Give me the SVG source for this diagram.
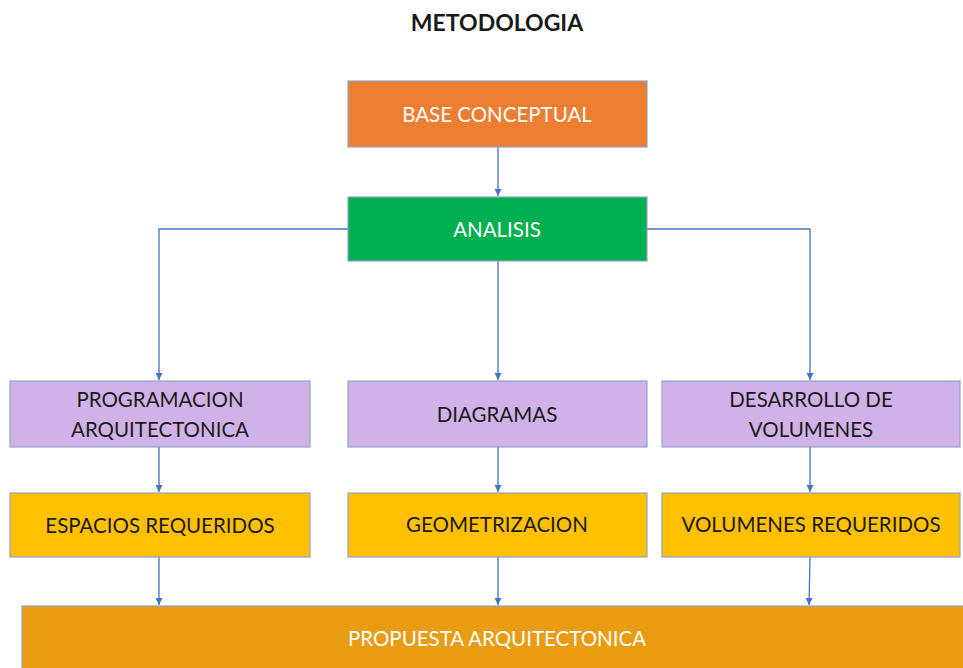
<svg xmlns="http://www.w3.org/2000/svg" width="963" height="668" viewBox="0 0 963 668">
<defs>
<marker id="arr" viewBox="0 0 10 10" refX="10" refY="5" markerWidth="7" markerHeight="7" markerUnits="userSpaceOnUse" orient="auto">
<path d="M0,0 L10,5 L0,10 z" fill="#4472C4"/>
</marker>
<style>
.box{stroke:#8FA3C8;stroke-width:1.2}
.t{font-family:Lato,"Open Sans",sans-serif;font-size:20.5px;text-anchor:middle;dominant-baseline:central}
.w{fill:#ffffff}
.d{fill:#1a1a1a}
.c{fill:none;stroke:#4472C4;stroke-width:1.3}
</style>
</defs>
<rect width="963" height="668" fill="#ffffff"/>
<text x="497" y="22" class="t d" style="font-weight:bold;font-size:23px">METODOLOGIA</text>
<g id="connectors">
<path class="c" d="M498,147 V196" marker-end="url(#arr)"/>
<path class="c" d="M348,229 H159 V380" marker-end="url(#arr)"/>
<path class="c" d="M498,261 V380" marker-end="url(#arr)"/>
<path class="c" d="M647,229 H810 V380" marker-end="url(#arr)"/>
<path class="c" d="M159,447 V492" marker-end="url(#arr)"/>
<path class="c" d="M498,447 V492" marker-end="url(#arr)"/>
<path class="c" d="M810,447 V492" marker-end="url(#arr)"/>
<path class="c" d="M159,557 V605" marker-end="url(#arr)"/>
<path class="c" d="M498,557 V605" marker-end="url(#arr)"/>
<path class="c" d="M810,557 L809,605" marker-end="url(#arr)"/>
</g>
<g id="base">
<rect class="box" x="348" y="81" width="299" height="66" fill="#ED7D31"/>
<text class="t w" x="497" y="114">BASE CONCEPTUAL</text>
</g>
<g id="analisis">
<rect class="box" x="348" y="197" width="299" height="64" fill="#00B050"/>
<text class="t w" x="497" y="229">ANALISIS</text>
</g>
<g id="programacion">
<rect class="box" x="10" y="381" width="300" height="66" fill="#D0B2E8"/>
<text class="t d" x="160" y="399">PROGRAMACION</text>
<text class="t d" x="160" y="429">ARQUITECTONICA</text>
</g>
<g id="diagramas">
<rect class="box" x="348" y="381" width="299" height="66" fill="#D0B2E8"/>
<text class="t d" x="497" y="414">DIAGRAMAS</text>
</g>
<g id="desarrollo">
<rect class="box" x="662" y="381" width="298" height="66" fill="#D0B2E8"/>
<text class="t d" x="811" y="399">DESARROLLO DE</text>
<text class="t d" x="811" y="429">VOLUMENES</text>
</g>
<g id="espacios">
<rect class="box" x="10" y="493" width="300" height="64" fill="#FFC000"/>
<text class="t d" x="160" y="525">ESPACIOS REQUERIDOS</text>
</g>
<g id="geometrizacion">
<rect class="box" x="348" y="493" width="299" height="64" fill="#FFC000"/>
<text class="t d" x="497" y="524">GEOMETRIZACION</text>
</g>
<g id="volumenes">
<rect class="box" x="662" y="493" width="298" height="64" fill="#FFC000"/>
<text class="t d" x="811" y="524">VOLUMENES REQUERIDOS</text>
</g>
<g id="propuesta">
<rect class="box" x="22" y="606" width="950" height="70" fill="#E99C11"/>
<text class="t w" x="497" y="638">PROPUESTA ARQUITECTONICA</text>
</g>
</svg>
